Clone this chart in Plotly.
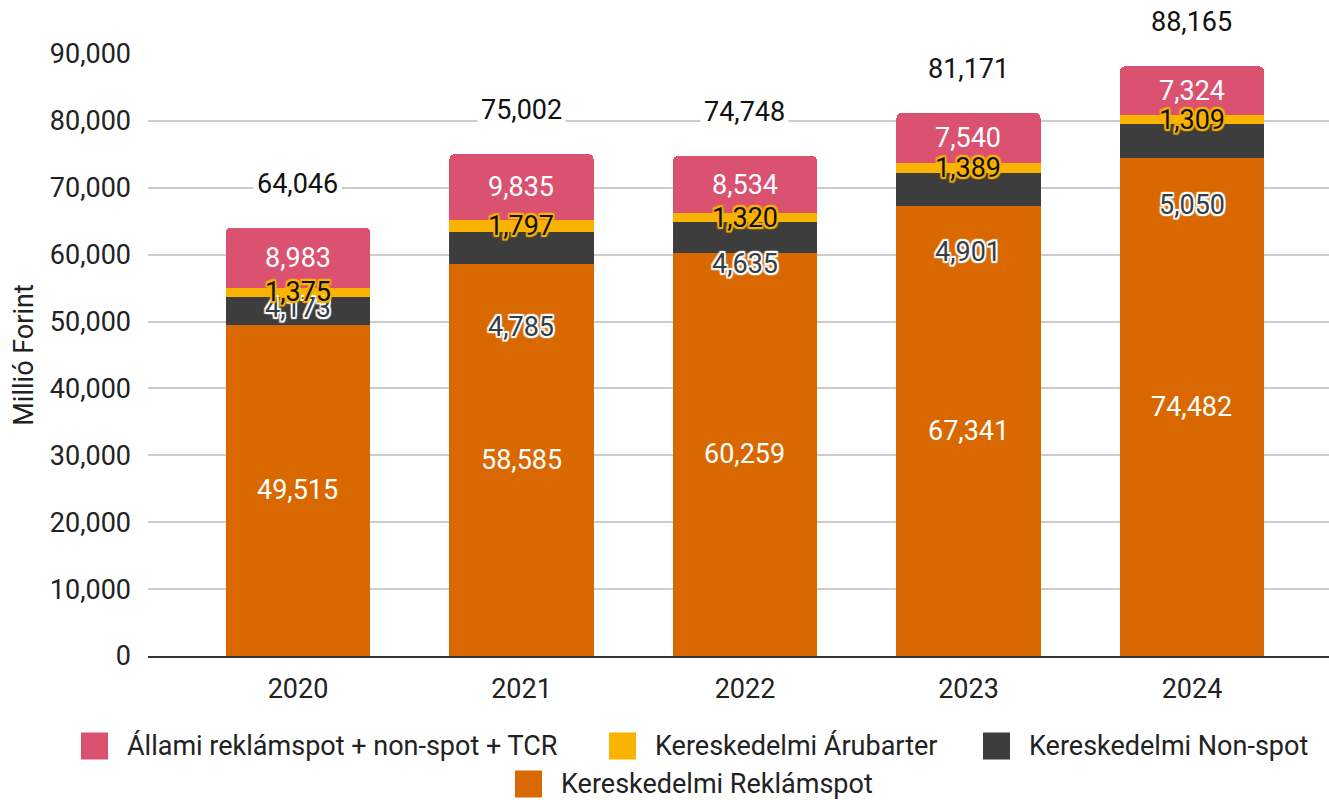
import plotly.graph_objects as go

# ---------------- data ----------------
years = ["2020", "2021", "2022", "2023", "2024"]
reklamspot = [49515, 58585, 60259, 67341, 74482]
nonspot = [4173, 4785, 4635, 4901, 5050]
arubarter = [1375, 1797, 1320, 1389, 1309]
allami = [8983, 9835, 8534, 7540, 7324]

series_names = [
    "Kereskedelmi Reklámspot",
    "Kereskedelmi Non-spot",
    "Kereskedelmi Árubarter",
    "Állami reklámspot + non-spot + TCR",
]
series_values = [reklamspot, nonspot, arubarter, allami]
y_ticks = [0, 10000, 20000, 30000, 40000, 50000, 60000, 70000, 80000, 90000]

# ---------------- styles ----------------
colors = ["#d96800", "#3d3d3d", "#f9b300", "#db5271"]
FONT = "Roboto"
FS = 27
W, H = 1329, 800
ML, MR, MT, MB = 148, 0, 54, 144
PW, PH = W - ML - MR, H - MT - MB

def halo(c, r=1.6):
    d = [(-r, -r), (r, -r), (-r, r), (r, r), (0, r), (r, 0), (0, -r), (-r, 0)]
    return ", ".join(f"{dx}px {dy}px 1px {c}" for dx, dy in d)

label_styles = [
    dict(color="white"),
    dict(color="#353d47", shadow=halo("white")),
    dict(color="#111111", shadow=halo(colors[2])),
    dict(color="white"),
]
# pixel nudges of the non-spot labels (the original chart moves them to avoid overlaps)
nonspot_nudge = [3, -79, -27, -63, -64]

fig = go.Figure()
for name, vals, col in zip(series_names, series_values, colors):
    fig.add_trace(go.Bar(
        x=years, y=vals, name=name, marker=dict(color=col, line=dict(width=0)),
        width=0.645, showlegend=False,
    ))

annotations = []
bases = [0] * len(years)
for si, vals in enumerate(series_values):
    for i, v in enumerate(vals):
        font = dict(family=FONT, size=FS)
        font.update(label_styles[si])
        annotations.append(dict(
            x=i, y=bases[i] + v / 2, xref="x", yref="y", text=f"{v:,}",
            showarrow=False, yshift=(nonspot_nudge[i] if si == 1 else 0),
            font=font,
        ))
        bases[i] += v

for i, tot in enumerate(bases):
    annotations.append(dict(
        x=i, y=tot, xref="x", yref="y", text=f"{tot:,}", showarrow=False,
        yshift=44, bgcolor="white", borderpad=3,
        font=dict(family=FONT, size=FS, color="#111111"),
    ))

# ---------------- manual legend (pixel layout) ----------------
def px(x):
    return (x - ML) / PW

def py(y):
    return (H - MB - y) / PH

legend_items = [  # (series index, square left px, center y px)
    (3, 81, 746),
    (2, 609, 746),
    (1, 983, 746),
    (0, 515, 784),
]
shapes = []
for si, sx, cy in legend_items:
    shapes.append(dict(
        type="rect", xref="paper", yref="paper", xsizemode="pixel", ysizemode="pixel",
        xanchor=px(sx), yanchor=py(cy), x0=0, x1=27, y0=-13.5, y1=13.5,
        fillcolor=colors[si], line=dict(width=0), layer="above",
    ))
    annotations.append(dict(
        x=px(sx + 44), y=py(cy), xref="paper", yref="paper", xanchor="left",
        yanchor="middle", text=series_names[si], showarrow=False,
        font=dict(family=FONT, size=FS, color="#222222"),
    ))

fig.update_layout(
    barmode="stack",
    barcornerradius=5,
    width=W, height=H,
    margin=dict(l=ML, r=MR, t=MT, b=MB, autoexpand=False),
    paper_bgcolor="white", plot_bgcolor="white",
    font=dict(family=FONT, size=FS, color="#222222"),
    showlegend=False,
    annotations=annotations,
    shapes=shapes,
    xaxis=dict(
        type="category", range=[-0.671, 4.613], showgrid=False,
        showline=True, linecolor="#333333", linewidth=2,
        ticks="", ticklabelstandoff=8,
        tickfont=dict(family=FONT, size=FS, color="#222222"),
    ),
    yaxis=dict(
        range=[0, 90000], tickvals=y_ticks, tickformat=",d",
        showgrid=True, gridcolor="#cccccc", gridwidth=2,
        zeroline=False, showline=False, ticks="", ticklabelstandoff=16,
        tickfont=dict(family=FONT, size=FS, color="#222222"),
        title=dict(text="Millió Forint", font=dict(family=FONT, size=FS, color="#222222"),
                   standoff=8),
    ),
)

fig.write_html("out.html", config={"displayModeBar": False},
               post_script="document.body.style.margin='0';")
